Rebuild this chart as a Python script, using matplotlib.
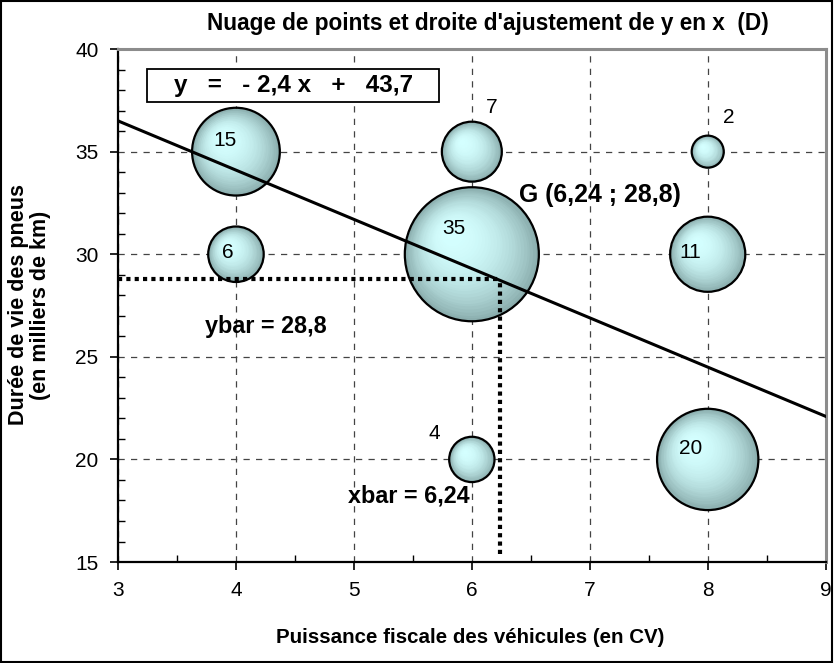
import numpy as np
import matplotlib
matplotlib.use("Agg")
import matplotlib.pyplot as plt
import matplotlib.transforms as mtransforms
from matplotlib.colors import to_rgb
from matplotlib.ticker import MultipleLocator

plt.rcParams["font.family"] = ["Liberation Sans Narrow", "Liberation Sans", "DejaVu Sans"]
BOLD = ["Liberation Sans", "DejaVu Sans"]

# bubble data: fiscal power (CV), tyre lifetime (thousands km), count
x_cv = [4, 4, 6, 6, 6, 8, 8, 8]
y_km = [35, 30, 35, 30, 20, 35, 30, 20]
counts = [15, 6, 7, 35, 4, 2, 11, 20]
# label offsets in pixels relative to bubble centre
label_dx = [-11, -8, 20, -18, -38, 21, -17, -17]
label_dy = [11, 2, 44, 26, 26, 34, 2, 11]

slope, intercept = -2.4, 43.7
xbar, ybar = 6.24, 28.8

fig = plt.figure(figsize=(8.34, 6.63), dpi=100)
ax = fig.add_axes([0.1415, 0.1523, 0.8485, 0.7737])
ax.set_xlim(3, 9)
ax.set_ylim(15, 40)

# gridlines
ax.set_axisbelow(True)
ax.grid(True, which="major", color="#444444", linestyle=(0, (5, 5)), linewidth=0.9)

# regression line
xl = np.array([3, 9])
ax.plot(xl, slope * xl + intercept, color="black", lw=2.2, zorder=5)

# mean lines
ax.plot([3, xbar], [ybar, ybar], color="black", lw=3, linestyle=(0, (1, 1)),
        dash_capstyle="butt", zorder=4)
ax.plot([xbar, xbar], [15.4, ybar], color="black", lw=3, linestyle=(0, (1, 1)),
        dash_capstyle="butt", zorder=4)

# shaded bubbles: area proportional to count
edge_c = np.array(to_rgb("#8aadad"))
centre_c = np.array(to_rgb("#d4ffff"))
n_layers = 30
for xi, yi, ci in zip(x_cv, y_km, counts):
    d = 96.5 * np.sqrt(ci / 35.0)  # diameter in points
    r = d / 2.0
    for k in range(n_layers):
        f = 1.0 - k / n_layers
        t = k / (n_layers - 1)
        col = centre_c + (edge_c - centre_c) * (1 - t) ** 2.2
        shift = (1 - f) * 0.35 * r
        tr = ax.transData + mtransforms.ScaledTranslation(
            -shift / 72.0, shift / 72.0, fig.dpi_scale_trans)
        ax.scatter([xi], [yi], s=(d * f) ** 2, color=col, linewidths=0,
                   transform=tr, zorder=3)
    ax.scatter([xi], [yi], s=d ** 2, facecolor="none", edgecolor="black",
               linewidths=1.6, zorder=3.5)

for xi, yi, ci, dx, dy in zip(x_cv, y_km, counts, label_dx, label_dy):
    ax.annotate(str(ci), (xi, yi), xytext=(dx, dy), textcoords="offset pixels",
                ha="center", va="center", fontsize=15, zorder=6)

# equation in a framed box
ax.add_patch(plt.Rectangle((0.041, 0.896), 0.413, 0.066, transform=ax.transAxes,
                           facecolor="white", edgecolor="black", linewidth=1.3,
                           zorder=5.5))
ax.text(0.2475, 0.929, "y   =   - 2,4 x   +   43,7", transform=ax.transAxes,
        ha="center", va="center", fontsize=17.5, fontweight="bold",
        family=BOLD, zorder=6)

ax.text(6.40, 32.9, "G (6,24 ; 28,8)", ha="left", va="center",
        fontsize=17.9, fontweight="bold", family=BOLD, zorder=6)
ax.text(3.74, 26.5, "ybar = 28,8", ha="left", va="center",
        fontsize=16.8, fontweight="bold", family=BOLD, zorder=6)
ax.text(5.98, 18.2, "xbar = 6,24", ha="right", va="center",
        fontsize=16.8, fontweight="bold", family=BOLD, zorder=6)

# axes styling
ax.xaxis.set_major_locator(MultipleLocator(1))
ax.xaxis.set_minor_locator(MultipleLocator(0.5))
ax.yaxis.set_major_locator(MultipleLocator(5))
ax.yaxis.set_minor_locator(MultipleLocator(1))
ax.tick_params(which="major", direction="out", length=6, width=1.2,
               labelsize=15, pad=8)
ax.tick_params(which="minor", direction="in", length=5, width=1)
for side in ("left", "bottom"):
    ax.spines[side].set_linewidth(1.6)
    ax.spines[side].set_color("black")
for side in ("top", "right"):
    ax.spines[side].set_linewidth(2.2)
    ax.spines[side].set_color("#8c8c8c")

fig.text(0.585, 0.965, "Nuage de points et droite d'ajustement de y en x  (D)",
         ha="center", va="center", fontsize=16.3, fontweight="bold", family=BOLD)
fig.text(0.564, 0.039, "Puissance fiscale des véhicules (en CV)",
         ha="center", va="center", fontsize=14.8, fontweight="bold", family=BOLD)
fig.text(0.035, 0.54, "Durée de vie des pneus\n(en milliers de km)",
         ha="center", va="center", rotation=90, fontsize=15.5,
         fontweight="bold", family=BOLD, multialignment="center",
         linespacing=1.05)

# outer frame
fig.patches.append(plt.Rectangle((0.001, 0.001), 0.997, 0.997,
                                 transform=fig.transFigure, fill=False,
                                 edgecolor="black", linewidth=1.5))

fig.savefig("out.png", dpi=100)
